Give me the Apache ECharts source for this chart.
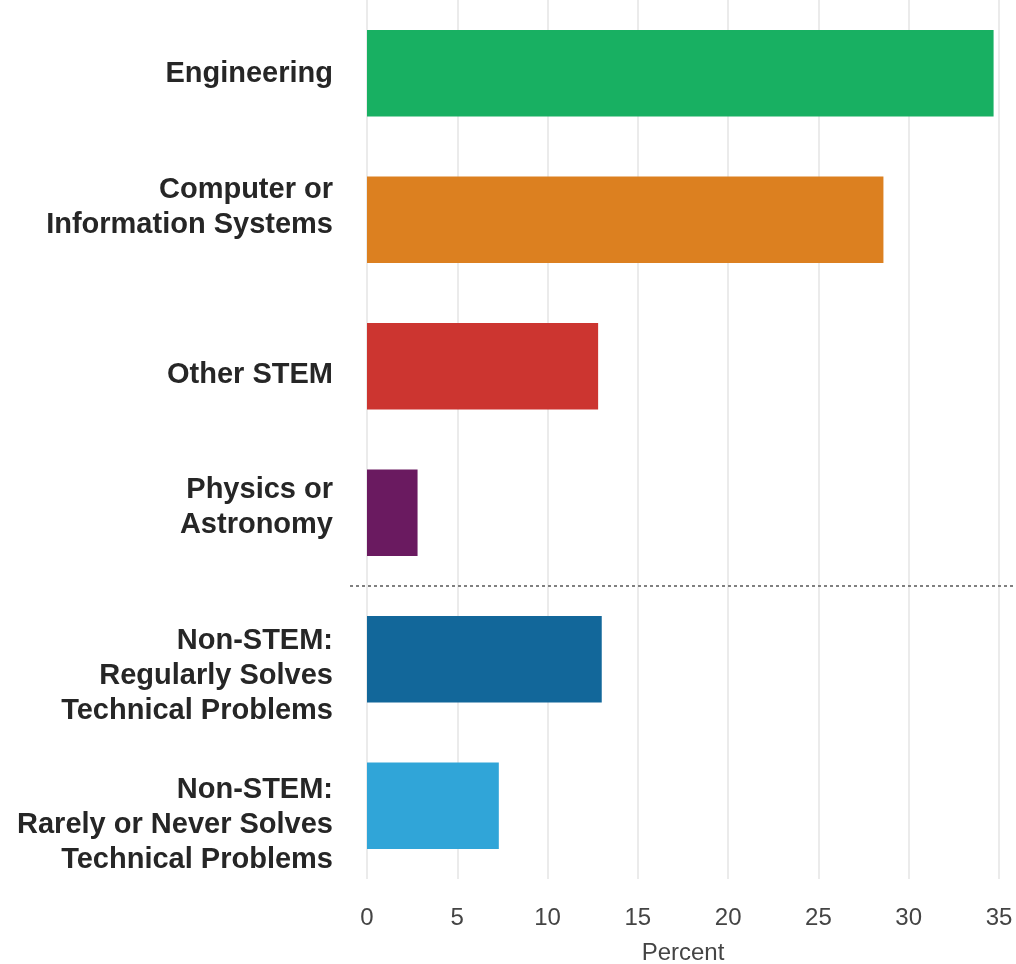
<!DOCTYPE html>
<html>
<head>
<meta charset="utf-8">
<script src="https://cdn.jsdelivr.net/npm/echarts@6/dist/echarts.min.js"></script>
<style>
html,body{margin:0;padding:0;background:#fff;}
#chart{width:1016px;height:964px;}
</style>
</head>
<body>
<div id="chart"></div>
<script>
var categories = [
  "Engineering",
  "Computer or\nInformation Systems",
  "Other STEM",
  "Physics or\nAstronomy",
  "Non-STEM:\nRegularly Solves\nTechnical Problems",
  "Non-STEM:\nRarely or Never Solves\nTechnical Problems"
];
var values = [34.7, 28.6, 12.8, 2.8, 13.0, 7.3];
var colors = ["#18b062", "#dc8020", "#cc3530", "#6a1a60", "#12679a", "#30a5d8"];
var xTicks = [0, 5, 10, 15, 20, 25, 30, 35];

// label vertical nudges (px, + = down) to match the reference's label placement
var labelShift = [1, -12, 9, -5, 17, 19];

var rich = {
  t: { fontFamily: 'Liberation Sans', fontWeight: 'bold', fontSize: 29, lineHeight: 35, color: '#262626' }
};
labelShift.forEach(function (s, i) {
  var h = Math.max(1, Math.abs(s) * 2);
  rich['g' + i] = { fontSize: 1, lineHeight: h, height: h };
});

var chart = echarts.init(document.getElementById('chart'));
var option = {
  animation: false,
  backgroundColor: '#ffffff',
  grid: { left: 367, right: 17, top: 0, bottom: 85, containLabel: false, outerBoundsMode: 'none' },
  xAxis: {
    type: 'value',
    min: xTicks[0],
    max: xTicks[xTicks.length - 1],
    interval: 5,
    name: 'Percent',
    nameLocation: 'middle',
    nameGap: 62,
    nameTextStyle: { fontFamily: 'Liberation Sans', fontSize: 24, color: '#444' },
    axisLine: { show: false },
    axisTick: { show: false },
    axisLabel: { fontFamily: 'Liberation Sans', fontSize: 24, color: '#444', margin: 27 },
    splitLine: { show: true, lineStyle: { color: '#ebebeb', width: 2 } }
  },
  yAxis: {
    type: 'category',
    inverse: true,
    data: categories,
    axisLine: { show: false },
    axisTick: { show: false },
    axisLabel: {
      fontFamily: 'Liberation Sans', fontWeight: 'bold', fontSize: 29,
      color: '#262626', margin: 34, lineHeight: 35, align: 'right',
      formatter: function (value, idx) {
        var lines = value.split('\n').map(function (l) { return '{t|' + l + '}'; });
        var s = labelShift[idx];
        var gap = '{g' + idx + '| }';
        if (s > 0) lines.unshift(gap);
        else if (s < 0) lines.push(gap);
        return lines.join('\n');
      },
      rich: rich
    }
  },
  series: [{
    type: 'bar',
    barWidth: '59%',
    data: values.map(function (v, i) { return { value: v, itemStyle: { color: colors[i] } }; })
  }]
};
chart.setOption(option);

var y3 = chart.convertToPixel({ yAxisIndex: 0 }, 3);
var y4 = chart.convertToPixel({ yAxisIndex: 0 }, 4);
var ySep = (y3 + y4) / 2;
chart.setOption({
  graphic: [{
    type: 'line',
    shape: { x1: 350, y1: ySep, x2: 1016, y2: ySep },
    style: { stroke: '#808080', lineWidth: 2, lineDash: [3, 3] },
    z: 10
  }]
});
</script>
</body>
</html>
